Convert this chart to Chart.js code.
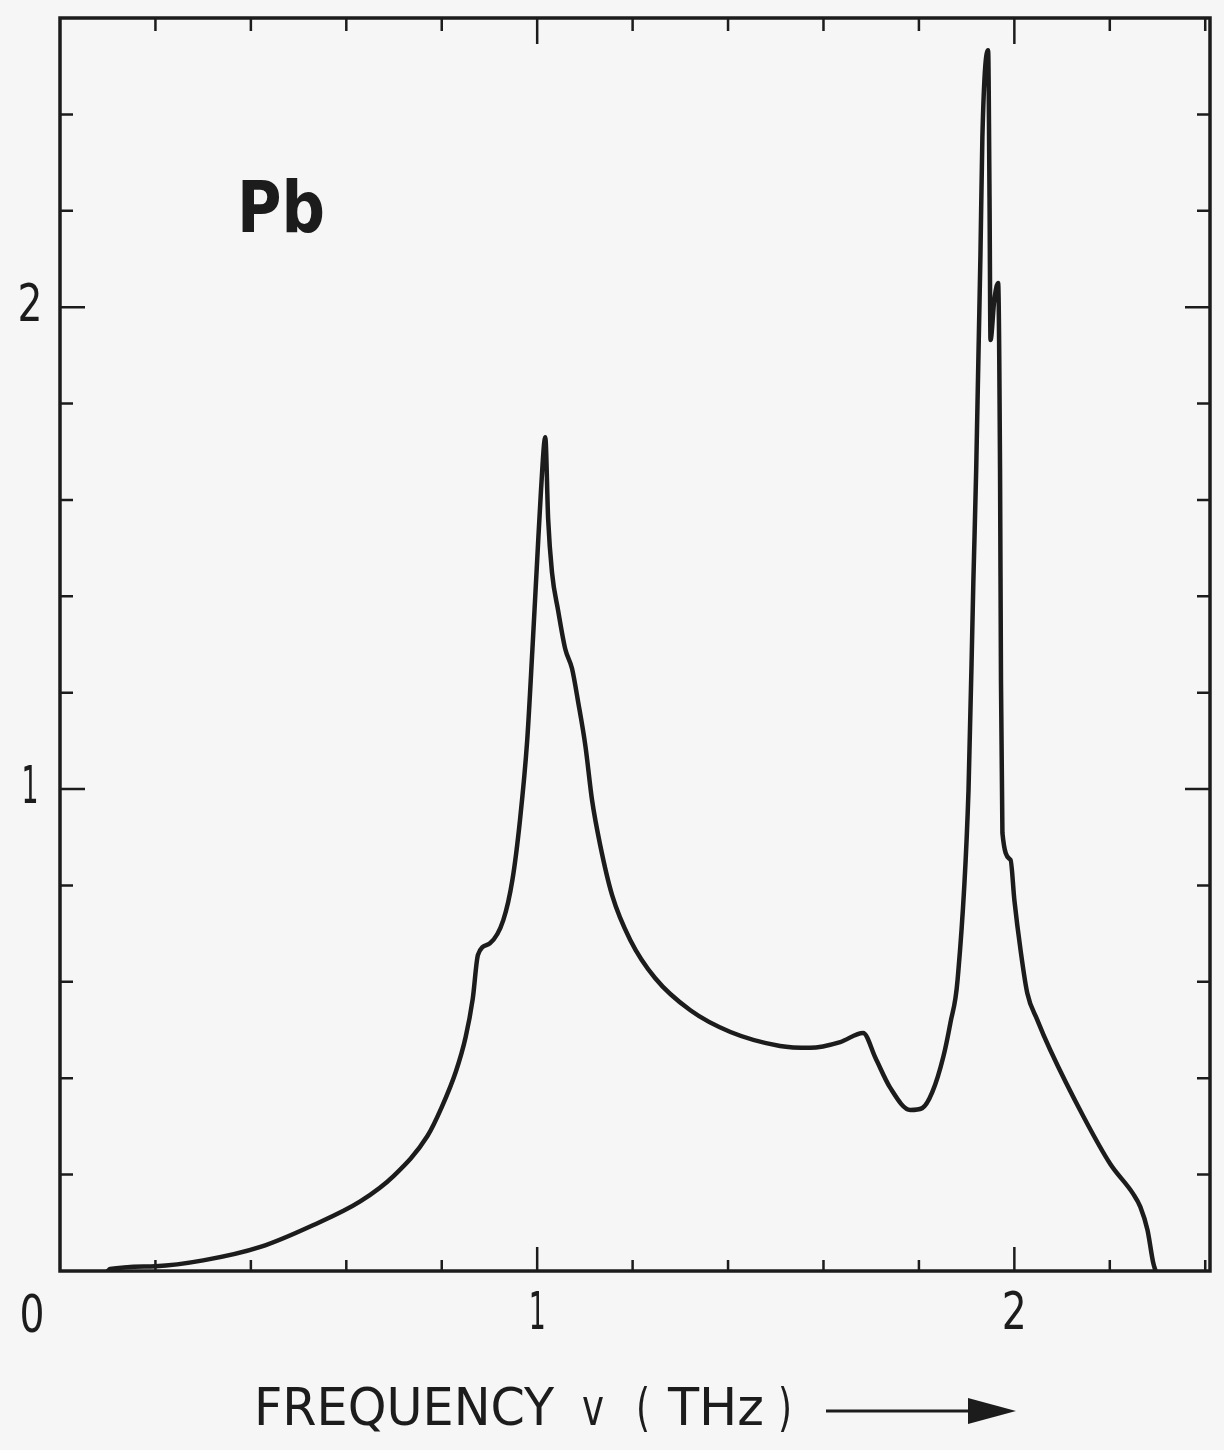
<!DOCTYPE html>
<html>
<head>
<meta charset="utf-8">
<script src="https://cdn.jsdelivr.net/npm/chart.js@4"></script>
<style>
  html, body { margin: 0; padding: 0; background: #f6f6f6; }
  #wrap { width: 1224px; height: 1450px; }
</style>
</head>
<body>
<div id="wrap"><canvas id="myChart" width="1224" height="1450"></canvas></div>
<script>
// frequency (THz) and density of states
const freqs = [0.100, 0.105, 0.200, 0.300, 0.420, 0.530, 0.630, 0.700, 0.770, 0.800, 0.830,
  0.850, 0.865, 0.876,
  0.901, 0.929, 0.948, 0.964, 0.979, 0.990, 1.000, 1.008, 1.017, 1.023, 1.031, 1.044, 1.059,
  1.073, 1.086, 1.101, 1.115, 1.132, 1.157, 1.195, 1.247, 1.321, 1.405, 1.509, 1.572, 1.635,
  1.683, 1.709, 1.740, 1.782, 1.807, 1.828, 1.851, 1.866, 1.881, 1.904, 1.914,
  1.920, 1.929, 1.933, 1.945, 1.948, 1.950, 1.958, 1.966, 1.970, 1.972, 1.975, 1.992, 2.000,
  2.013, 2.027, 2.048, 2.075, 2.145, 2.201, 2.249, 2.264, 2.279, 2.291, 2.296];
const dos = [0.000, 0.004, 0.010, 0.022, 0.050, 0.095, 0.145, 0.198, 0.280, 0.340, 0.415,
  0.485, 0.565, 0.656,
  0.680, 0.728, 0.811, 0.936, 1.100, 1.290, 1.475, 1.620, 1.730, 1.560, 1.450, 1.370, 1.290,
  1.250, 1.180, 1.090, 0.977, 0.884, 0.780, 0.687, 0.608, 0.541, 0.496, 0.467, 0.463, 0.475,
  0.494, 0.442, 0.380, 0.334, 0.338, 0.371, 0.444, 0.515, 0.604, 1.000, 1.427,
  1.662, 2.112, 2.353, 2.533, 2.222, 1.932, 2.015, 2.050, 1.662, 1.220, 0.909, 0.853, 0.770,
  0.666, 0.577, 0.521, 0.459, 0.320, 0.222, 0.160, 0.133, 0.085, 0.017, 0.000];

const xTicks = [0.2, 0.4, 0.6, 0.8, 1, 1.2, 1.4, 1.6, 1.8, 2, 2.2, 2.4];
const yTicks = [0.2, 0.4, 0.6, 0.8, 1, 1.2, 1.4, 1.6, 1.8, 2, 2.2, 2.4];
const xLabels = ['1', '2'];
const yLabels = ['1', '2'];

const points = freqs.map((f, i) => ({ x: f, y: dos[i] }));
const ink = '#1c1c1c';
const numFont = '"DejaVu Sans Condensed", "Liberation Sans Narrow", "DejaVu Sans", sans-serif';

// text squeezed to a target width, like the narrow lettering of the original
function fitText(c, txt, x, y, w, align) {
  const m = c.measureText(txt).width;
  const s = w / m;
  c.save();
  let x0 = x;
  if (align === 'center') x0 = x - w / 2;
  c.translate(x0, y);
  c.scale(s, 1);
  c.textAlign = 'left';
  c.fillText(txt, 0, 0);
  c.restore();
}

const frame = {
  id: 'frame',
  afterDraw(chart) {
    const c = chart.ctx;
    const a = chart.chartArea;
    const xs = chart.scales.x, ys = chart.scales.y;
    c.save();
    c.strokeStyle = ink;
    c.fillStyle = ink;
    c.lineWidth = 3.5;
    c.strokeRect(a.left, a.top, a.right - a.left, a.bottom - a.top);

    // inward ticks on all four sides
    c.lineWidth = 2.5;
    xTicks.forEach(v => {
      const px = xs.getPixelForValue(v);
      const major = Number.isInteger(v);
      const lb = major ? 24 : 11, lt = major ? 26 : 13;
      c.beginPath();
      c.moveTo(px, a.bottom); c.lineTo(px, a.bottom - lb);
      c.moveTo(px, a.top); c.lineTo(px, a.top + lt);
      c.stroke();
    });
    yTicks.forEach(v => {
      const py = ys.getPixelForValue(v);
      const major = Number.isInteger(v);
      const l = major ? 25 : 13;
      c.beginPath();
      c.moveTo(a.left, py); c.lineTo(a.left + l, py);
      c.moveTo(a.right, py); c.lineTo(a.right - l, py);
      c.stroke();
    });

    // tick labels
    c.font = '52px ' + numFont;
    c.textBaseline = 'middle';
    fitText(c, '0', 32, 1318, 25, 'center');
    xLabels.forEach(t => {
      fitText(c, t, xs.getPixelForValue(Number(t)), 1315, t === '1' ? 17 : 25, 'center');
    });
    yLabels.forEach(t => {
      fitText(c, t, 30, ys.getPixelForValue(Number(t)), t === '1' ? 17 : 25, 'center');
    });

    // element label
    c.font = 'bold 72px ' + numFont;
    c.textBaseline = 'alphabetic';
    fitText(c, 'Pb', 237, 232, 88, 'left');

    // axis title with arrow
    c.font = '52px ' + numFont;
    c.textBaseline = 'middle';
    fitText(c, 'FREQUENCY', 254, 1411, 300, 'left');
    fitText(c, 'v', 582, 1411, 22, 'left');
    fitText(c, '(', 636, 1411, 14, 'left');
    fitText(c, 'THz', 668, 1411, 96, 'left');
    fitText(c, ')', 778, 1411, 14, 'left');
    c.lineWidth = 3;
    c.beginPath();
    c.moveTo(826, 1411); c.lineTo(975, 1411);
    c.stroke();
    c.beginPath();
    c.moveTo(968, 1398); c.lineTo(1016, 1411); c.lineTo(968, 1424);
    c.closePath();
    c.fill();
    c.restore();
  }
};

new Chart(document.getElementById('myChart'), {
  type: 'scatter',
  data: {
    datasets: [{
      data: points,
      showLine: true,
      borderColor: ink,
      borderWidth: 4.5,
      pointRadius: 0,
      cubicInterpolationMode: 'monotone',
      borderJoinStyle: 'round',
      borderCapStyle: 'round'
    }]
  },
  options: {
    responsive: false,
    animation: false,
    layout: { padding: { left: 60, top: 18, right: 14, bottom: 179 } },
    plugins: { legend: { display: false }, tooltip: { enabled: false } },
    scales: {
      x: { type: 'linear', min: 0, max: 2.41, display: false },
      y: { type: 'linear', min: 0, max: 2.6, display: false }
    }
  },
  plugins: [frame]
});
</script>
</body>
</html>
